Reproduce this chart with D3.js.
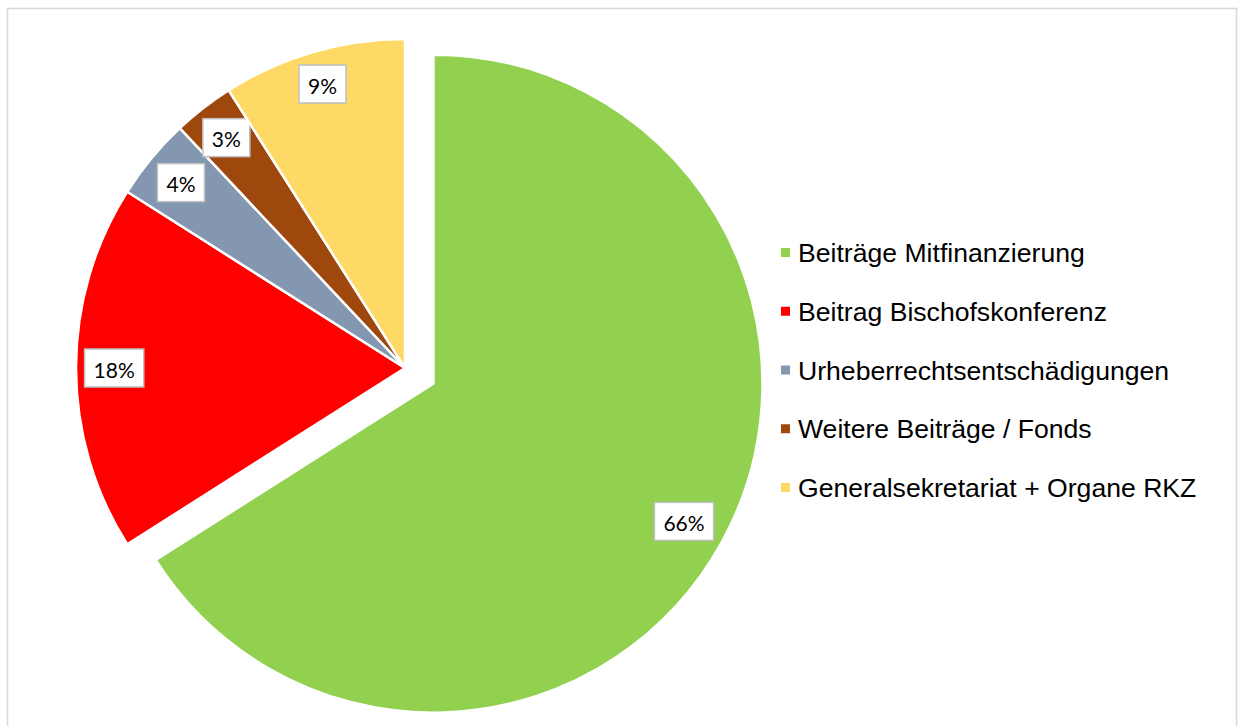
<!DOCTYPE html>
<html><head><meta charset="utf-8">
<script src="https://cdn.jsdelivr.net/npm/d3@7"></script>
<style>
html,body{margin:0;padding:0;background:#fff;}
svg{display:block;}
</style></head>
<body>
<svg id="chart" width="1242" height="726"></svg>
<script>
const categories = ["Beiträge Mitfinanzierung","Beitrag Bischofskonferenz","Urheberrechtsentschädigungen","Weitere Beiträge / Fonds","Generalsekretariat + Organe RKZ"];
const values = [66, 18, 4, 3, 9];
const labels = ["66%","18%","4%","3%","9%"];
const colors = ["#92D050","#FF0000","#8497B0","#9E480E","#FFD966"];
const exploded = [true,false,false,false,false];

const svg = d3.select("#chart");
svg.append("rect").attr("x",7.5).attr("y",8.5).attr("width",1229).attr("height",740)
  .attr("fill","#fff").attr("stroke","#d9d9d9").attr("stroke-width",1.6);

const cx = 405, cy = 368, R = 329, explode = 32.5;
const pie = d3.pie().sort(null).value(d=>d)(values);
const arc = d3.arc().innerRadius(0).outerRadius(R);
const g = svg.append("g").attr("transform",`translate(${cx},${cy})`);

function off(d,i){
  if(!exploded[i]) return [0,0];
  const m=(d.startAngle+d.endAngle)/2;
  return [explode*Math.sin(m), -explode*Math.cos(m)];
}
const slices = g.selectAll("g.s").data(pie).enter().append("g")
  .attr("transform",(d,i)=>{const o=off(d,i);return `translate(${o[0]},${o[1]})`;});
slices.append("path").attr("d",arc).attr("fill",(d,i)=>colors[i])
  .attr("stroke","#fff").attr("stroke-width",2.5).attr("stroke-linejoin","miter");

const cornerR = R - 8;
slices.each(function(d,i){
  const m=(d.startAngle+d.endAngle)/2;
  const ux=Math.sin(m), uy=-Math.cos(m);
  const sel=d3.select(this);
  const rect=sel.append("rect").attr("fill","#fff").attr("stroke","#bfbfbf").attr("stroke-width",1.5);
  const t=sel.append("text").attr("text-anchor","middle")
    .attr("dominant-baseline","central")
    .style("font-family","Lato, 'Open Sans', sans-serif").style("font-size","21px").attr("fill","#000")
    .text(labels[i]);
  const w=t.node().getComputedTextLength()+18, h=38;
  // place so the farthest box corner lies at cornerR
  const ax=Math.abs(ux), ay=Math.abs(uy);
  const A=ax*ax+ay*ay, B=2*(ax*w/2+ay*h/2), C=(w/2)*(w/2)+(h/2)*(h/2)-cornerR*cornerR;
  const dist=(-B+Math.sqrt(B*B-4*A*C))/(2*A);
  const x=dist*ux, y=dist*uy;
  t.attr("x",x).attr("y",y+1);
  rect.attr("x",x-w/2).attr("y",y-h/2).attr("width",w).attr("height",h);
});

const lg = svg.append("g");
const rowY = d3.scalePoint().domain(categories).range([252.5,487.5]);
categories.forEach((c,i)=>{
  const y=rowY(c);
  lg.append("rect").attr("x",781).attr("y",y-4.5).attr("width",9).attr("height",9).attr("fill",colors[i]);
  lg.append("text").attr("x",798).attr("y",y+9.5)
    .style("font-family","'Liberation Sans', Arial, sans-serif").style("font-size","26.6px").attr("fill","#000").text(c);
});
</script>
</body></html>
